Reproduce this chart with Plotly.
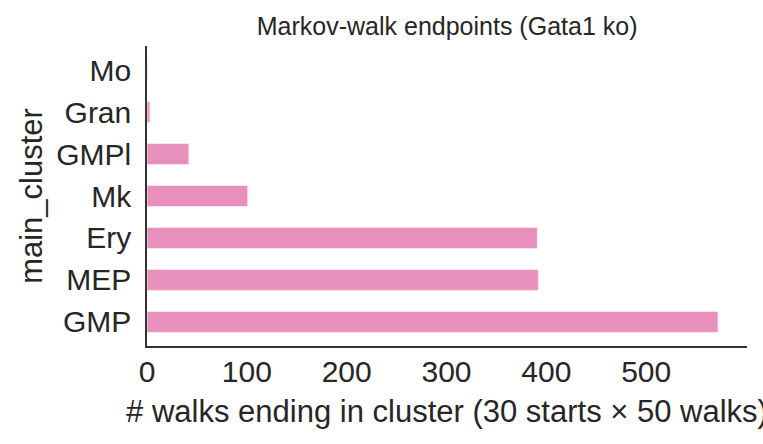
import plotly.graph_objects as go

# contagem de passeios por cluster final (de baixo para cima)
clusters = ["GMP", "MEP", "Ery", "Mk", "GMPl", "Gran", "Mo"]
walk_counts = [572, 392, 391, 101, 42, 3, 0]

bar_color = "#e890bd"
font_family = "Liberation Sans, Arial, sans-serif"

fig = go.Figure()
fig.add_trace(go.Bar(
    x=walk_counts,
    y=clusters,
    orientation="h",
    width=0.5,
    marker=dict(color=bar_color, line=dict(color="#fbe3ef", width=1)),
))

fig.update_layout(
    width=763,
    height=444,
    margin=dict(l=147, r=16, t=46, b=98, autoexpand=False),
    plot_bgcolor="white",
    paper_bgcolor="white",
    font=dict(family=font_family, color="#262626"),
    showlegend=False,
    title=dict(
        text="Markov-walk endpoints (Gata1 ko)",
        x=0.586, xanchor="center", y=0.94, yanchor="middle",
        font=dict(size=25, color="#262626"),
        automargin=False,
    ),
)

fig.update_xaxes(
    range=[0, 601],
    tickvals=[0, 100, 200, 300, 400, 500],
    showgrid=False,
    zeroline=False,
    showline=True,
    linecolor="#333333",
    linewidth=1.5,
    ticks="",
    tickfont=dict(size=30),
    ticklabelstandoff=-2,
    automargin=False,
    title=dict(text="# walks ending in cluster (30 starts × 50 walks)",
               font=dict(size=31), standoff=14),
)
fig.update_yaxes(
    range=[-0.575, 6.575],
    showgrid=False,
    zeroline=False,
    showline=True,
    linecolor="#333333",
    linewidth=1.5,
    ticks="",
    tickfont=dict(size=30),
    ticklabelstandoff=8,
    automargin=False,
    title=dict(text="main_cluster", font=dict(size=31), standoff=4),
)

# sem margem do body, para a figura ficar encostada no canto
fig.write_html("out.html", config={"displayModeBar": False},
               post_script="document.body.style.margin='0';")
